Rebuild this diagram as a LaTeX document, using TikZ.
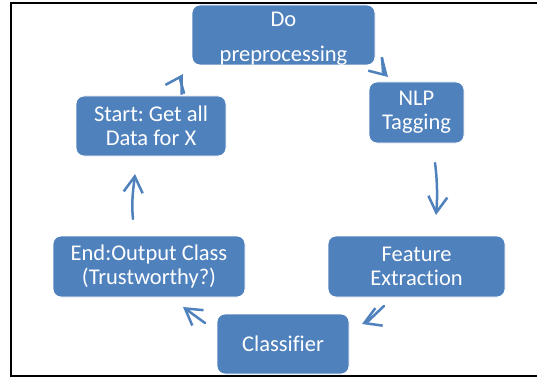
\documentclass[tikz,border=0pt]{standalone}
\usepackage{fontspec}
\setmainfont{Carlito}[Ligatures={NoCommon}]
\usetikzlibrary{arrows.meta}
\definecolor{boxblue}{HTML}{4F81BD}
\frenchspacing
\begin{document}
\begin{tikzpicture}[x=1pt,y=-1pt,
  stage/.style={draw=white, line width=0.8pt, fill=boxblue, rounded corners=8pt,
    text=white, align=center, font=\fontsize{22.5}{24}\selectfont, inner sep=0pt},
  flow/.style={draw=boxblue, line width=2.5pt, line cap=round, line join=round,
    -{Straight Barb[length=16pt,width=19pt]}},
  frameline/.style={draw=black, line width=2pt},
]
\useasboundingbox (0,0) rectangle (537,377);
\fill[white] (0,0) rectangle (537,377);

% open frame: left, top and bottom edges
\draw[frameline] (537,3) -- (11,3) -- (11,376) -- (537,376);

% stages of the cycle
\node[stage, minimum width=183pt, minimum height=60pt] (pre)   at (283.5,35)  {\rule{0pt}{21pt}Do\\[11pt]preprocessing};
\node[stage, minimum width=95pt,  minimum height=61pt] (nlp)   at (416.5,112.5) {NLP\\Tagging};
\node[stage, minimum width=177pt, minimum height=61pt] (feat)  at (416.5,266.5) {Feature\\Extraction};
\node[stage, minimum width=132pt, minimum height=60pt] (clf)   at (283,344)   {Classifier};
\node[stage, minimum width=192pt, minimum height=61pt] (out)   at (149,266.5) {End:Output Class\\(Trustworthy?)};
\node[stage, minimum width=150pt, minimum height=60pt] (start) at (151,126)   {Start: Get all\\Data for X};

% arrow end points between the stages, with a bend point just before each tip
\coordinate (a1s) at (184,93);  \coordinate (a1k) at (180,79);      \coordinate (a1t) at (183,74);
\coordinate (a2s) at (382,58);  \coordinate (a2k) at (383,72);      \coordinate (a2t) at (388,77);
\coordinate (a3s) at (435,163); \coordinate (a3t) at (436,215);
\coordinate (a4s) at (384,306); \coordinate (a4k) at (367.5,321.7); \coordinate (a4t) at (362,324);
\coordinate (a5s) at (205,323); \coordinate (a5t) at (183,307);
\coordinate (a6s) at (133,219); \coordinate (a6t) at (135,174);

\draw[flow] (a1s) -- (a1k) -- (a1t);
\draw[flow] (a2s) -- (a2k) -- (a2t);
\draw[flow] (a3s) .. controls (438,185) and (437,205) .. (a3t);
\draw[flow] (a4s) -- (a4k) -- (a4t);
\draw[flow] (a5s) -- (a5t);
\draw[flow] (a6s) .. controls (131,200) and (134,184) .. (a6t);
\end{tikzpicture}
\end{document}
